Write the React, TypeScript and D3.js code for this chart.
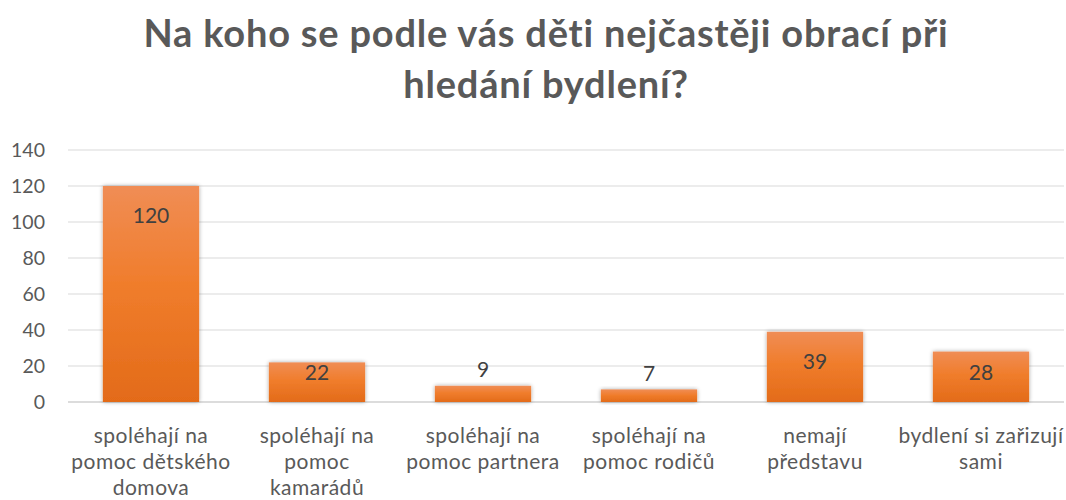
import React from "react";
import * as d3 from "d3";

const categories: string[][] = [
  ["spoléhají na", "pomoc dětského", "domova"],
  ["spoléhají na", "pomoc", "kamarádů"],
  ["spoléhají na", "pomoc partnera"],
  ["spoléhají na", "pomoc rodičů"],
  ["nemají", "představu"],
  ["bydlení si zařizují", "sami"],
];
const values: number[] = [120, 22, 9, 7, 39, 28];
const yTicks: number[] = [0, 20, 40, 60, 80, 100, 120, 140];
const titleLines: string[] = ["Na koho se podle vás děti nejčastěji obrací při", "hledání bydlení?"];

const W = 1066;
const H = 500;
const left = 68;
const right = 1064;
const top = 150;
const bottom = 402;
const font = "Lato, Carlito, Calibri, sans-serif";

export default function App() {
  const x = d3.scaleBand<number>().domain(values.map((_, i) => i)).range([left, right]).paddingInner(0.42).paddingOuter(0.21);
  const y = d3.scaleLinear().domain([0, 140]).range([bottom, top]);
  return (
    <svg width={W} height={H} style={{ position: "absolute", left: 0, top: 0, background: "#fff" }} fontFamily={font}>
      <defs>
        <linearGradient id="barGrad" x1="0" y1="0" x2="0" y2="1">
          <stop offset="0%" stopColor="#f08d55" />
          <stop offset="45%" stopColor="#f07d2c" />
          <stop offset="100%" stopColor="#e36b19" />
        </linearGradient>
        <filter id="shadow" x="-20%" y="-20%" width="140%" height="140%">
          <feGaussianBlur in="SourceAlpha" stdDeviation="2" />
          <feOffset dx="0" dy="0" result="b" />
          <feComponentTransfer><feFuncA type="linear" slope="0.35" /></feComponentTransfer>
          <feMerge><feMergeNode /><feMergeNode in="SourceGraphic" /></feMerge>
        </filter>
      </defs>
      {titleLines.map((t, i) => (
        <text key={i} x={546} y={47 + i * 51} textAnchor="middle" fontSize={38} letterSpacing={0.8} fontWeight="bold" fill="#595959">{t}</text>
      ))}
      {yTicks.map((t) => (
        <g key={t}>
          <line x1={left} x2={right} y1={y(t)} y2={y(t)} stroke={t === 0 ? "#d0d0d0" : "#d9d9d9"} strokeWidth={t === 0 ? 1.5 : 1} />
          <text x={45} y={y(t)} dy="0.35em" textAnchor="end" fontSize={19.5} fill="#595959">{t}</text>
        </g>
      ))}
      {values.map((v, i) => {
        const bx = x(i)!;
        const bw = x.bandwidth();
        const ty = y(v);
        const h = bottom - ty;
        const labelY = h > 35 ? Math.min(ty + 30, 373) : ty - 16;
        return (
          <g key={i}>
            <rect x={bx} y={ty} width={bw} height={h} fill="url(#barGrad)" filter="url(#shadow)" />
            <text x={bx + bw / 2} y={labelY} dy="0.35em" textAnchor="middle" fontSize={21} fill="#404040">{v}</text>
            {categories[i].map((line, j) => (
              <text key={j} x={bx + bw / 2} y={443 + j * 26} textAnchor="middle" fontSize={21} letterSpacing={0.5} fill="#595959">{line}</text>
            ))}
          </g>
        );
      })}
    </svg>
  );
}
